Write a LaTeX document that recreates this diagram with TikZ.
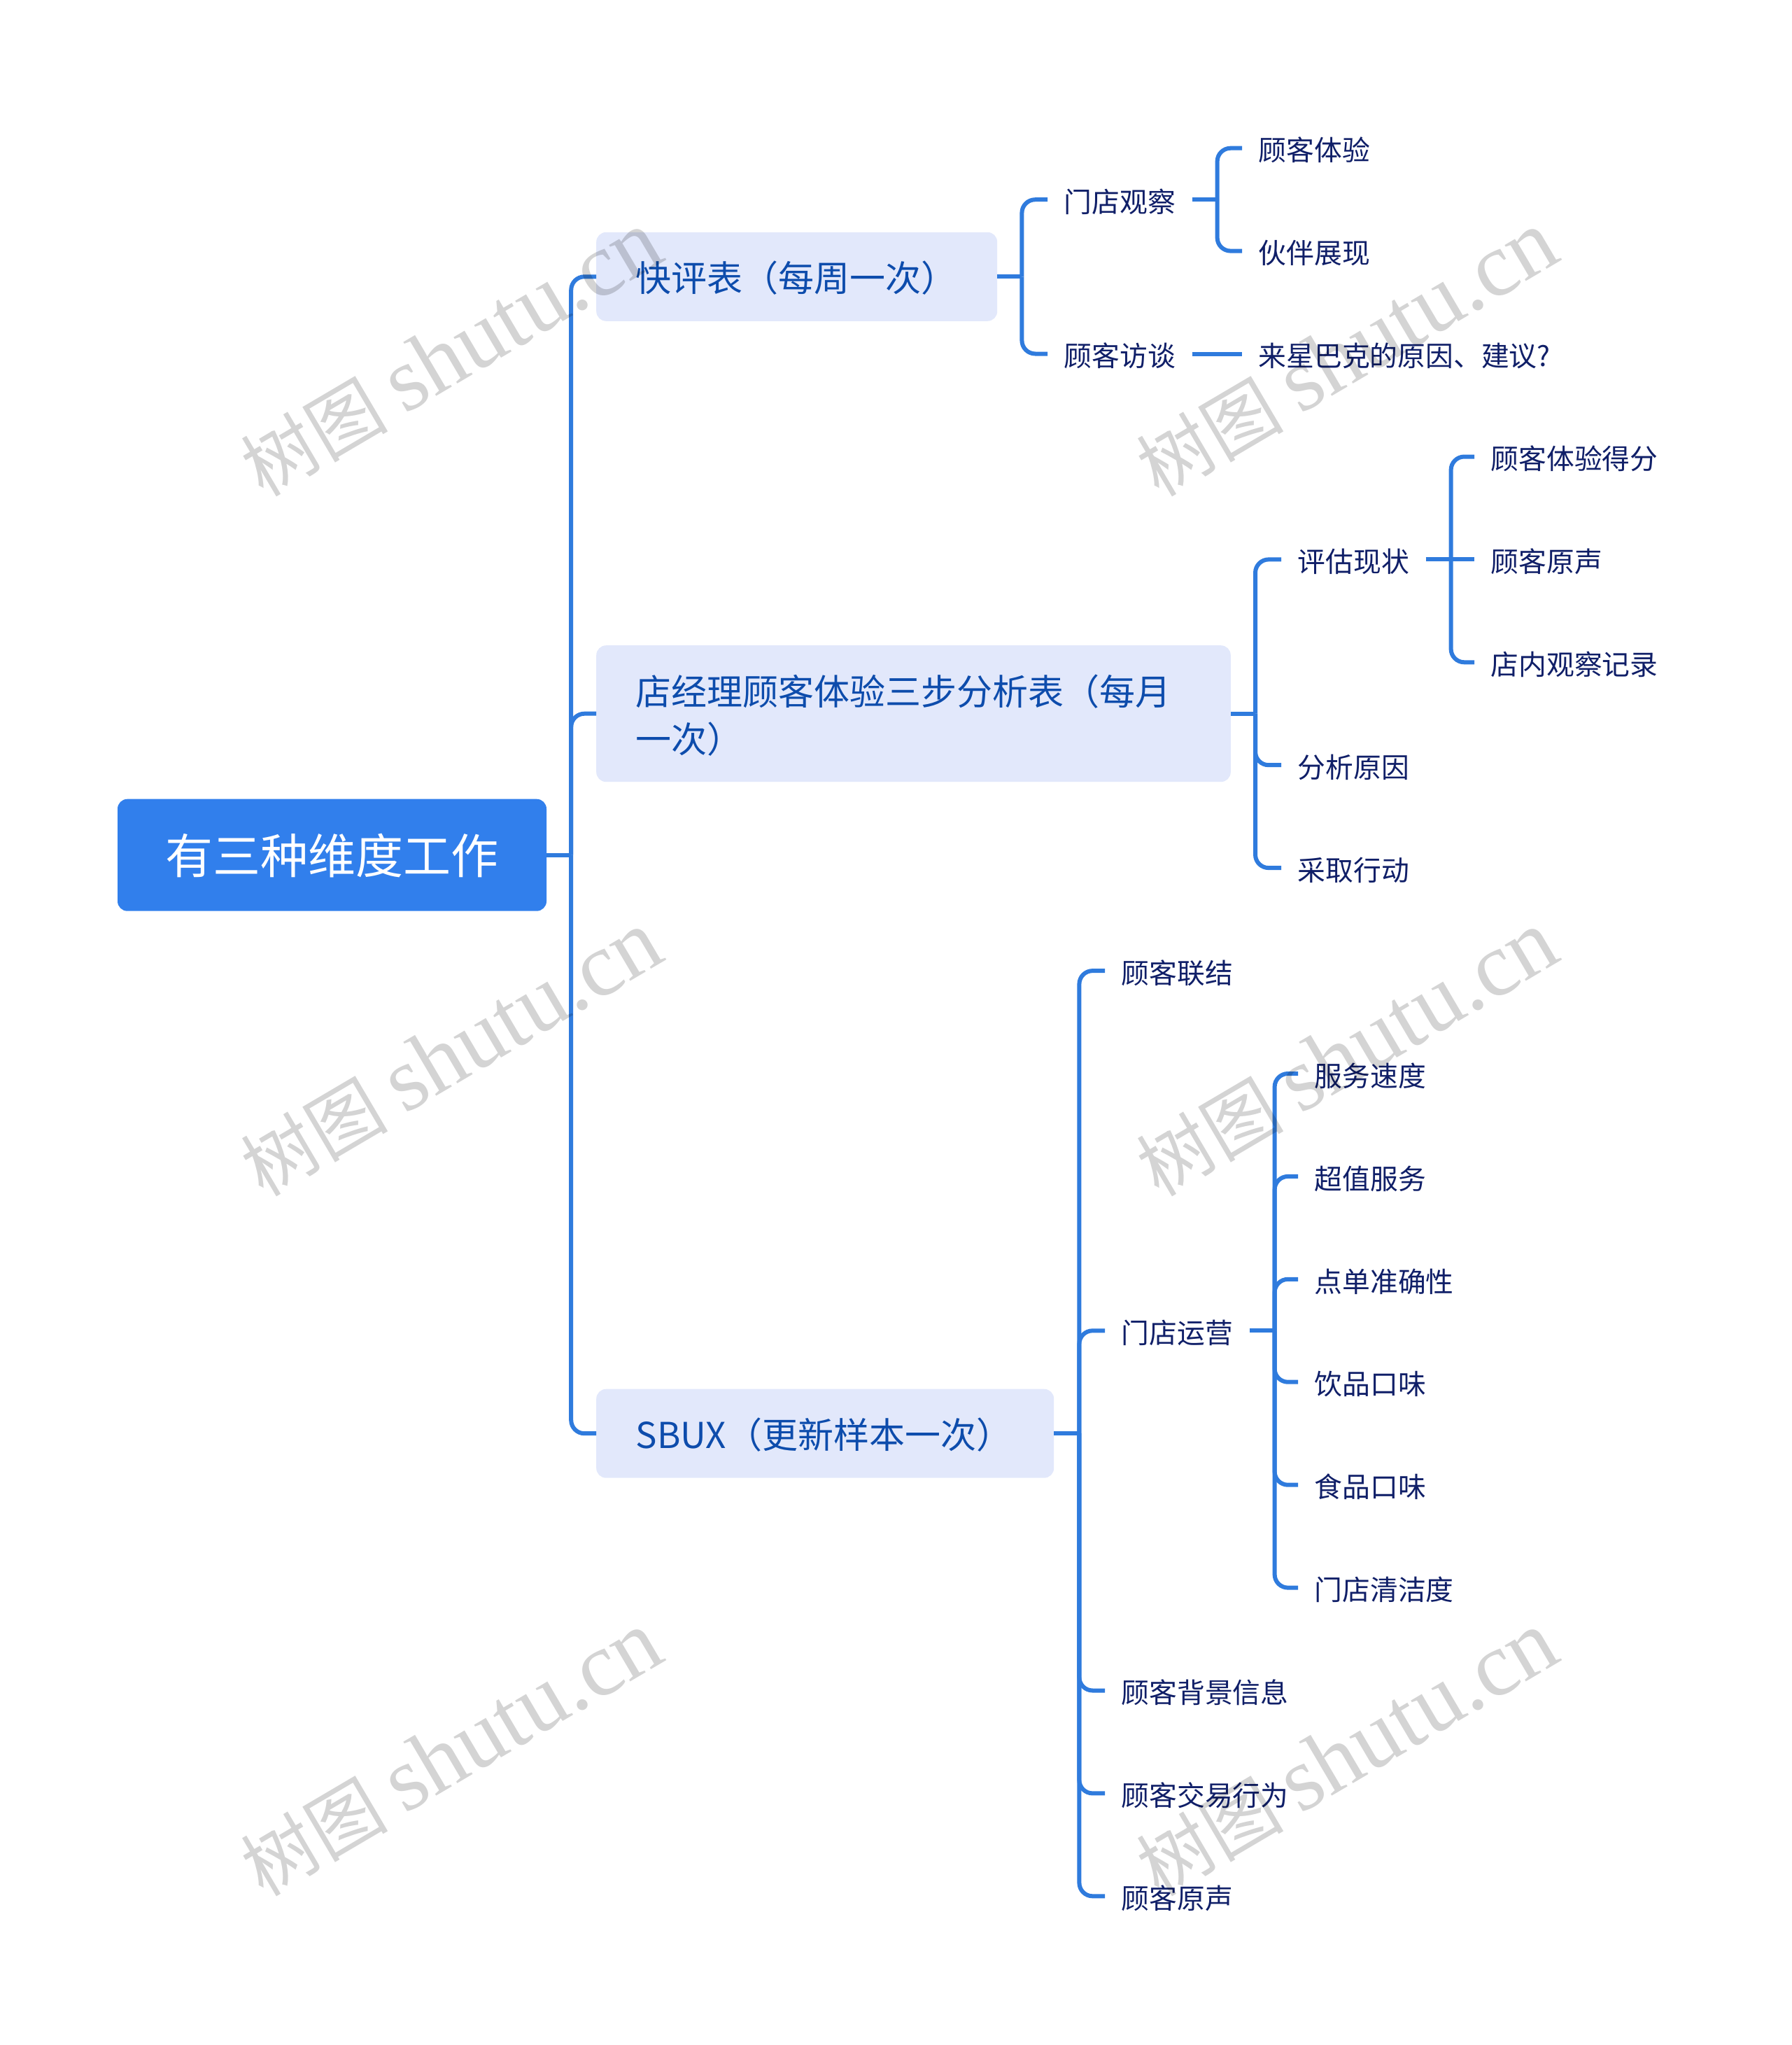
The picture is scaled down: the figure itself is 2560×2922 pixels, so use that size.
\documentclass[tikz,border=0pt]{standalone}
\usepackage{fontspec}
\setmainfont{Noto Sans CJK SC}
\newfontfamily\markfont{Liberation Serif}
\definecolor{linkblue}{HTML}{2F7BDD}
\definecolor{rootblue}{HTML}{317FEC}
\definecolor{topicfill}{HTML}{E2E8FB}
\definecolor{topicink}{HTML}{0D4CAC}
\definecolor{leafink}{HTML}{101F68}
\definecolor{markgray}{HTML}{D4D4D4}
\tikzset{
  rootbox/.style={fill=rootblue,text=white,rounded corners=14,inner sep=0,minimum width=613,minimum height=160,font=\fontsize{68}{80}\selectfont,text height=61,text depth=7},
  topic/.style={anchor=west,fill=topicfill,text=topicink,rounded corners=14,inner xsep=56.5,inner ysep=0,align=left,font=\fontsize{51}{68}\selectfont,execute at begin node=\rule{0pt}{47.5pt}},
  leaf/.style={anchor=west,text=leafink,inner xsep=23.5,inner ysep=0,font=\fontsize{39.8}{48}\selectfont,text height=40.4,text depth=4},
  link/.style={draw=linkblue,line width=6,rounded corners=19},
  watermark/.style={text=markgray,blend mode=multiply,rotate=30.5,font=\fontsize{130}{140}\selectfont},
}

\begin{document}
\begin{tikzpicture}[x=1pt,y=-1pt]
  \useasboundingbox (0,0) rectangle (2560,2922);
  % root and topics
  \node[rootbox] (root) at (474.5,1221.7) {有三种维度工作};
  \node[topic,text width=460,minimum height=127] (quick) at (852,395.3) {快评表（每周一次）};
  \node[topic,text width=793.6,minimum height=195] (manager) at (852,1019.7) {店经理顾客体验三步分析表（每月\\一次）};
  \node[topic,text width=541,minimum height=127] (sbux) at (852,2048.2) {SBUX（更新样本一次）};

  % first topic
  \node[leaf] (watch) at (1497,285.2) {门店观察};
  \node[leaf] (talk) at (1497,505.5) {顾客访谈};
  \node[leaf] (feel) at (1775,211.7) {顾客体验};
  \node[leaf] (staff) at (1775,358.6) {伙伴展现};
  \node[leaf] (why) at (1775,505.5) {来星巴克的原因、建议?};

  % second topic
  \node[leaf] (assess) at (1831,799.4) {评估现状};
  \node[leaf] (cause) at (1831,1093.2) {分析原因};
  \node[leaf] (act) at (1831,1240.1) {采取行动};
  \node[leaf] (score) at (2107,652.5) {顾客体验得分};
  \node[leaf] (voice) at (2107,799.4) {顾客原声};
  \node[leaf] (record) at (2107,946.3) {店内观察记录};

  % third topic
  \node[leaf] (bond) at (1579,1387.1) {顾客联结};
  \node[leaf] (run) at (1579,1901.3) {门店运营};
  \node[leaf] (background) at (1579,2415.5) {顾客背景信息};
  \node[leaf] (trade) at (1579,2562.4) {顾客交易行为};
  \node[leaf] (sound) at (1579,2709.3) {顾客原声};
  \node[leaf] (speed) at (1855,1534) {服务速度};
  \node[leaf] (value) at (1855,1680.9) {超值服务};
  \node[leaf] (order) at (1855,1827.8) {点单准确性};
  \node[leaf] (drink) at (1855,1974.7) {饮品口味};
  \node[leaf] (food) at (1855,2121.7) {食品口味};
  \node[leaf] (clean) at (1855,2268.6) {门店清洁度};

  % connectors
  \draw[link] (root.east) -- ++(35,0);
  \foreach \kid in {quick,manager,sbux}
    \draw[link] (root.east) ++(35,0) |- (\kid.west);
  \draw[link] (quick.east) -- ++(35,0);
  \foreach \kid in {watch,talk}
    \draw[link] (quick.east) ++(35,0) |- (\kid.west);
  \draw[link] (watch.east) -- ++(36,0);
  \foreach \kid in {feel,staff}
    \draw[link] (watch.east) ++(36,0) |- (\kid.west);
  \draw[link] (talk.east) -- (why.west);
  \draw[link] (manager.east) -- ++(35,0);
  \foreach \kid in {assess,cause,act}
    \draw[link] (manager.east) ++(35,0) |- (\kid.west);
  \draw[link] (assess.east) -- (voice.west);
  \foreach \kid in {score,record}
    \draw[link] (assess.east) ++(36,0) |- (\kid.west);
  \draw[link] (sbux.east) -- ++(36,0);
  \foreach \kid in {bond,run,background,trade,sound}
    \draw[link] (sbux.east) ++(36,0) |- (\kid.west);
  \draw[link] (run.east) -- ++(36,0);
  \foreach \kid in {speed,value,order,drink,food,clean}
    \draw[link] (run.east) ++(36,0) |- (\kid.west);

  % watermarks
  \foreach \col/\xpos in {a/645,b/1925}
    \foreach \row/\ypos in {1/506,2/1506,3/2506}
      \node[watermark] (mark\col\row) at (\xpos,\ypos) {{\fontsize{105}{140}\selectfont 树图}\hspace{24pt}{\markfont shutu.cn}};
\end{tikzpicture}
\end{document}
